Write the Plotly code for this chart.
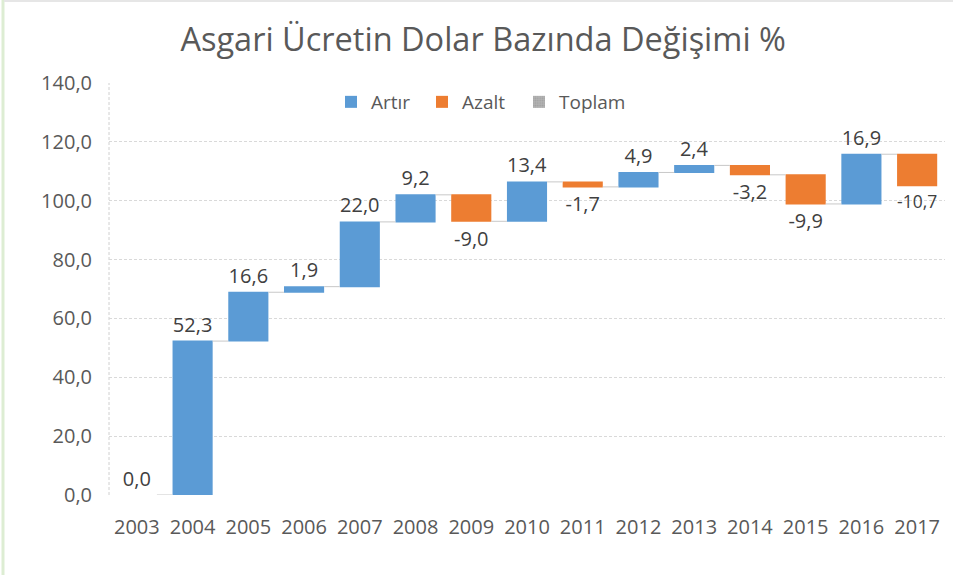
import plotly.graph_objects as go

years = ["2003", "2004", "2005", "2006", "2007", "2008", "2009", "2010",
         "2011", "2012", "2013", "2014", "2015", "2016", "2017"]
changes = [0.0, 52.3, 16.6, 1.9, 22.0, 9.2, -9.0, 13.4, -1.7, 4.9, 2.4, -3.2, -9.9, 16.9, -10.7]
legend_names = ["Artır", "Azalt", "Toplam"]
y_ticks = [0, 20, 40, 60, 80, 100, 120, 140]

BLUE = "#5B9BD5"
ORANGE = "#ED7D31"
GRAY = "#A5A5A5"
TXT = "#595959"
FONT = "Open Sans"

W, H = 953, 575
ML, MR, MT, MB = 109, 8, 83, 80
PW = W - ML - MR
PH = H - MT - MB

labels = [f"{v:.1f}".replace(".", ",") for v in changes]

fig = go.Figure()
fig.add_trace(go.Waterfall(
    x=years, y=changes, measure=["relative"] * len(changes),
    text=labels, textposition="outside", cliponaxis=False,
    textfont=dict(family=FONT, size=20, color="#404040"),
    increasing=dict(marker=dict(color=BLUE, line=dict(width=0))),
    decreasing=dict(marker=dict(color=ORANGE, line=dict(width=0))),
    totals=dict(marker=dict(color=GRAY, line=dict(width=0))),
    connector=dict(mode="between", line=dict(color="#C8C8C8", width=1)),
    showlegend=False, hoverinfo="x+y",
))

# legend entries (one legend box each, to place them like the original)
fig.add_trace(go.Bar(x=[years[0]], y=[0], name=legend_names[0], legend="legend",
                     marker=dict(color=BLUE, line=dict(width=0)), hoverinfo="skip"))
fig.add_trace(go.Bar(x=[years[0]], y=[0], name=legend_names[1], legend="legend2",
                     marker=dict(color=ORANGE, line=dict(width=0)), hoverinfo="skip"))
fig.add_trace(go.Bar(x=[years[0]], y=[0], name=legend_names[2], legend="legend3",
                     marker=dict(color="#A8A8A8", line=dict(width=0),
                                 pattern=dict(shape=".", fgcolor="#8A8A8A", bgcolor="#B4B4B4", size=3, solidity=0.4)),
                     hoverinfo="skip"))

shapes = [
    # dashed left axis line
    dict(type="line", xref="paper", yref="paper", x0=0, x1=0, y0=0, y1=1,
         line=dict(color="#D0D0D0", width=1, dash="3px,2px"), layer="below"),
    # outer frame (left green edge, top gray edge)
    dict(type="line", xref="paper", yref="paper", x0=(3 - ML) / PW, x1=(3 - ML) / PW,
         y0=-MB / PH, y1=(PH + MT) / PH, line=dict(color="#DDEDD3", width=3), layer="below"),
    dict(type="line", xref="paper", yref="paper", x0=(4 - ML) / PW, x1=(W - ML) / PW,
         y0=(PH + MT - 1) / PH, y1=(PH + MT - 1) / PH, line=dict(color="#E6E6E6", width=2), layer="below"),
]


def leg(px):
    return dict(orientation="h", x=(px - ML) / PW, xanchor="left", y=(495 - 102) / PH, yanchor="middle",
                font=dict(family=FONT, size=19, color=TXT), bgcolor="rgba(0,0,0,0)")


fig.update_layout(
    width=W, height=H,
    margin=dict(l=ML, r=MR, t=MT, b=MB),
    paper_bgcolor="white", plot_bgcolor="white",
    separators=",.",
    waterfallgap=0.28,
    barmode="overlay",
    font=dict(family=FONT, color=TXT),
    title=dict(text="Asgari Ücretin Dolar Bazında Değişimi %", x=0.507, xref="container", xanchor="center",
               y=1 - 40 / H, yref="container", yanchor="middle",
               font=dict(family=FONT, size=32.5, color=TXT)),
    legend=leg(331),
    legend2=leg(422),
    legend3=leg(519),
    xaxis=dict(type="category", showgrid=False, showline=False, zeroline=False, ticks="",
               tickfont=dict(family=FONT, size=20, color=TXT), ticklabelstandoff=18),
    yaxis=dict(range=[0, 140], tickvals=y_ticks, tickformat=".1f", showgrid=True,
               gridcolor="#D9D9D9", griddash="3px,2px", gridwidth=1, zeroline=False, showline=False,
               ticks="", tickfont=dict(family=FONT, size=20, color=TXT), ticklabelstandoff=16),
    shapes=shapes,
)

fig.write_html("out.html", config={"displayModeBar": False},
               post_script="document.body.style.margin='0';document.body.style.overflow='hidden';")
